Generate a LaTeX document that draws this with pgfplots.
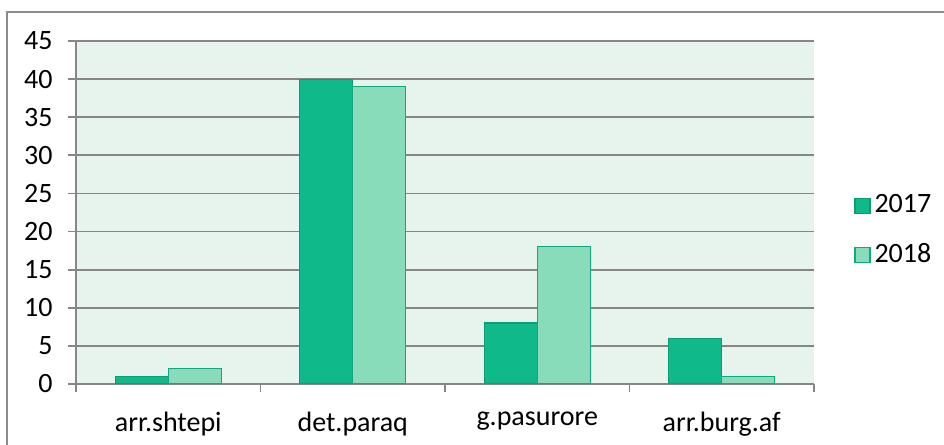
\documentclass[border=0pt]{standalone}
\usepackage{pgfplots}
\pgfplotsset{compat=1.18}
\usepackage{fontspec}
\setmainfont{Carlito}
\definecolor{yA}{HTML}{10B98A}
\definecolor{yAe}{HTML}{0E9C74}
\definecolor{yB}{HTML}{88DCBA}
\definecolor{yBe}{HTML}{12A87E}
\definecolor{plotbg}{HTML}{E6F4ED}
\definecolor{gridc}{HTML}{868686}
\definecolor{framec}{HTML}{8C8C8C}

\begin{document}
\fontsize{14pt}{17pt}\selectfont
\begin{tikzpicture}
\useasboundingbox (0,0) rectangle (472pt,222.5pt);
\begin{scope}
\clip (0,0) rectangle (472pt,222.5pt);
\draw[framec, line width=0.7pt] (3.5pt,-10pt) -- (3.5pt,216.5pt) -- (490pt,216.5pt);
\end{scope}
\begin{axis}[
    at={(38pt,30.5pt)}, anchor=south west,
    scale only axis,
    width=369pt, height=171.5pt,
    ybar=0pt, bar width=26.5pt,
    xmin=-0.5, xmax=3.5, ymin=0, ymax=45,
    ytick={0,5,...,45},
    xtick={0,1,2,3},
    xticklabels={arr.shtepi, det.paraq, g.pasurore, arr.burg.af},
    minor xtick={-0.5,0.5,1.5,2.5,3.5},
    major x tick style={draw=none},
    axis x line*=bottom, axis y line*=left,
    axis line style={gridc, line width=0.9pt, -},
    tick align=outside,
    major tick length=4pt, minor tick length=4pt,
    tick style={gridc, line width=0.9pt},
    ymajorgrids, grid style={gridc, line width=0.9pt},
    axis background/.style={fill=plotbg},
    /pgf/number format/assume math mode=true,
    tick label style={font=\fontsize{14pt}{17pt}\selectfont},
    yticklabel style={inner sep=0pt, xshift=-7.5pt},
    xticklabel style={yshift=-5pt},
    legend style={draw=none, fill=none, at={(1.046,0.4475)}, anchor=west,
        row sep=9pt, font=\fontsize{14pt}{17pt}\selectfont},
    legend cell align=left,
    legend image code/.code={\draw[#1, line width=0.6pt] (0pt,-3.75pt) rectangle (7.5pt,3.75pt);},
]
\addplot[fill=yA, draw=yAe, line width=0.6pt] coordinates {(0,1) (1,40) (2,8) (3,6)};
\addplot[fill=yB, draw=yBe, line width=0.6pt] coordinates {(0,2) (1,39) (2,18) (3,1)};
\legend{2017, 2018}
\end{axis}
\end{tikzpicture}
\end{document}
